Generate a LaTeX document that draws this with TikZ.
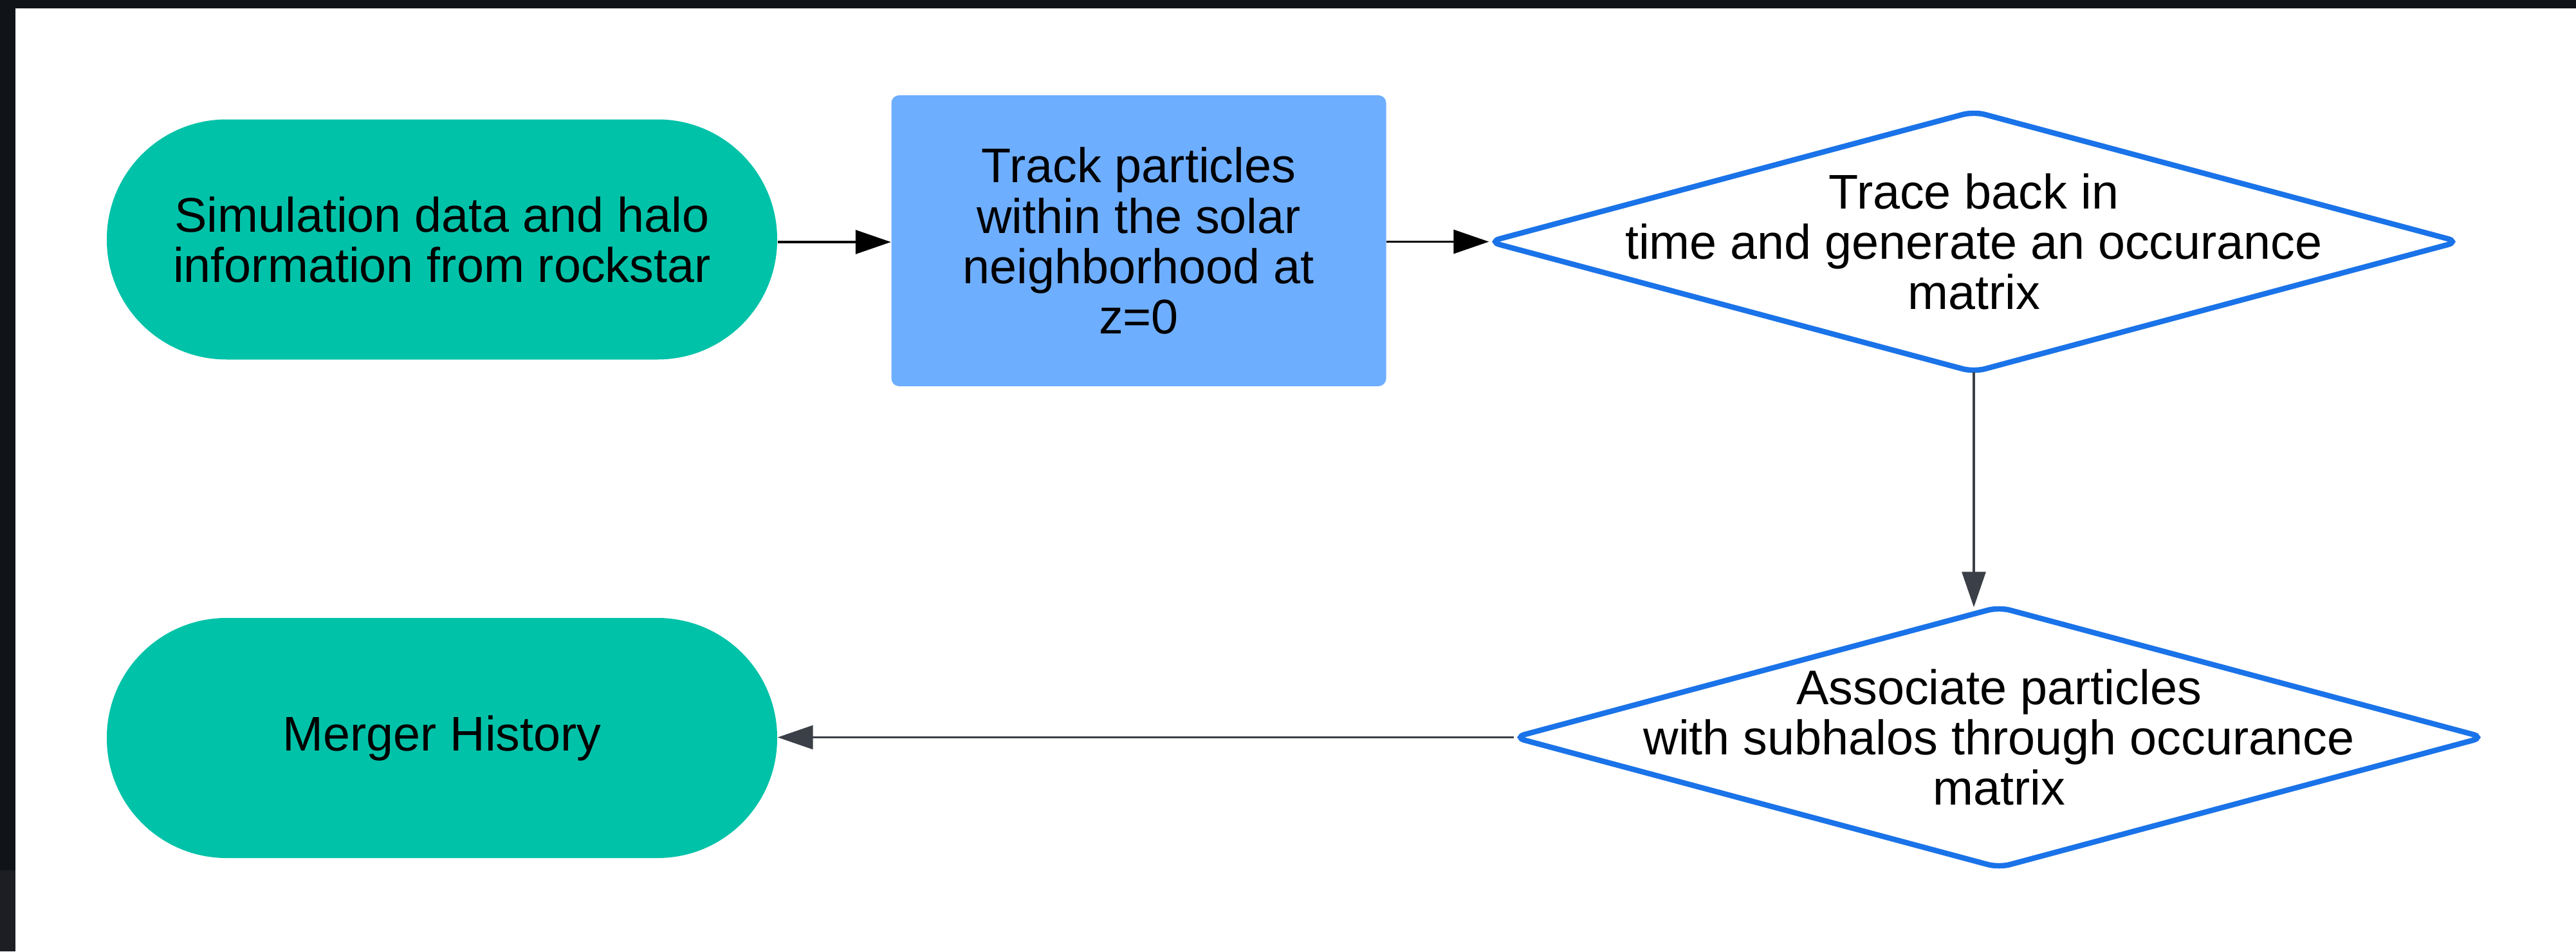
\documentclass[tikz,border=0pt]{standalone}
\usepackage{fontspec}
\setmainfont{Liberation Sans}
\usepackage{xcolor}
\usetikzlibrary{
  arrows.meta,
  calc
}
\definecolor{framedark}{HTML}{101318}
\definecolor{framegrey}{HTML}{1C1E23}
\definecolor{startteal}{HTML}{00C2A8}
\definecolor{stepblue}{HTML}{6EAEFF}
\definecolor{choiceblue}{HTML}{1A73E8}
\definecolor{linkgrey}{HTML}{3B4048}
\newcommand{\flowfont}{\fontsize{21.5}{22.2}\selectfont}
\tikzset{
  >=stealth,
  line cap=round,
  line join=round,
  terminal/.style={rectangle, fill=startteal, rounded corners=1.86cm, minimum width=10.42cm, minimum height=3.73cm, align=center, inner sep=0pt, font=\flowfont},
  process/.style={rectangle, fill=stepblue, rounded corners=0.12cm, minimum width=7.69cm, minimum height=4.52cm, align=center, inner sep=0pt, font=\flowfont},
  decision/.style={rectangle, minimum width=15.06cm, minimum height=4.03cm, align=center, inner sep=0pt, font=\flowfont},
  decisionline/.style={draw=choiceblue, line width=2.4pt, rounded corners=5pt},
  arrow/.style={-{Triangle[length=0.55cm,width=0.37cm]}, line width=0.9pt},
  greyarrow/.style={arrow, color=linkgrey}
}

\begin{document}
\begin{tikzpicture}
  \def\xmax{40.04}
  \def\ymin{-14.78}

  % screenshot frame
  \useasboundingbox (0,0) rectangle (\xmax,\ymin);
  \fill[framedark] (0,0) rectangle (\xmax,\ymin);
  \fill[framegrey] (0,-13.52) rectangle (0.24,\ymin);
  \fill[white] (0.24,-0.13) rectangle (\xmax,\ymin);

  \node[terminal] (source) at (6.87,-3.72) {Simulation data and halo\\information from rockstar};
  \node[process] (track) at (17.70,-3.74) {Track particles\\within the solar\\neighborhood at\\z=0};
  \node[decision] (trace) at (30.68,-3.755) {Trace back in\\time and generate an occurance\\matrix};
  \node[decision] (assoc) at (31.07,-11.455) {Associate particles\\with subhalos through occurance\\matrix};
  \node[terminal] (merger) at (6.87,-11.465) {Merger History};

  \draw[decisionline] (trace.west) -- (trace.north) -- (trace.east) -- (trace.south) -- cycle;
  \draw[decisionline] (assoc.west) -- (assoc.north) -- (assoc.east) -- (assoc.south) -- cycle;

  \draw[arrow] (source.east |- 0,-3.76) -- (track.west |- 0,-3.76);
  \draw[arrow] (track.east |- 0,-3.755) -- (trace.west);
  \draw[greyarrow] (trace.south) -- (trace.south |- assoc.north);
  \draw[greyarrow] (assoc.west) -- (assoc.west -| merger.east);
\end{tikzpicture}
\end{document}
